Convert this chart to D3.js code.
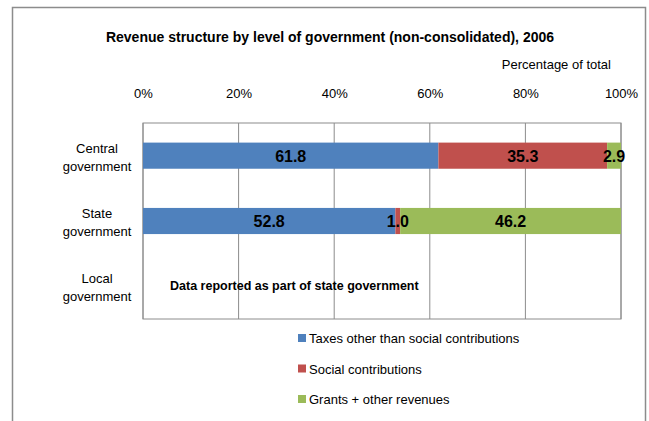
<!DOCTYPE html>
<html><head><meta charset="utf-8">
<script src="https://cdn.jsdelivr.net/npm/d3@7"></script>
<style>body{margin:0;background:#fff}svg{display:block}</style>
</head><body>
<script>
const categories = ["Central government", "State government", "Local government"];
const seriesNames = ["Taxes other than social contributions", "Social contributions", "Grants + other revenues"];
const taxes = [61.8, 52.8, null];
const social = [35.3, 1.0, null];
const grants = [2.9, 46.2, null];
const tickValues = [0, 20, 40, 60, 80, 100];
const note = "Data reported as part of state government";
const colors = ["#4F81BD", "#C0504D", "#9BBB59"];
const font = "'Liberation Sans Narrow', 'Arial Narrow', sans-serif";

const W = 649, H = 421;
const svg = d3.select("body").append("svg").attr("width", W).attr("height", H)
  .style("font-family", font);

svg.append("rect").attr("x", 12.5).attr("y", 7.5).attr("width", 633).attr("height", 430)
  .attr("fill", "#fff").attr("stroke", "#8c8c8c").attr("stroke-width", 1.5);

const x = d3.scaleLinear().domain([0, 100]).range([143, 621]);
const y = d3.scaleBand().domain(categories).range([123, 319]).paddingInner(0.6).paddingOuter(0.3);

svg.append("text").attr("x", 330).attr("y", 42).attr("text-anchor", "middle")
  .style("font-size", "14px").style("font-weight", "bold").attr("fill", "#000")
  .text("Revenue structure by level of government (non-consolidated), 2006");
svg.append("text").attr("x", 611).attr("y", 69).attr("text-anchor", "end")
  .style("font-size", "13px").text("Percentage of total");

// grid
svg.append("g").selectAll("line").data(tickValues).join("line")
  .attr("x1", d => x(d)).attr("x2", d => x(d)).attr("y1", 123).attr("y2", 319)
  .attr("stroke", "#8c8c8c").attr("stroke-width", 1);
svg.append("rect").attr("x", x(0)).attr("y", 123).attr("width", x(100) - x(0)).attr("height", 196)
  .attr("fill", "none").attr("stroke", "#8c8c8c").attr("stroke-width", 1);

// top axis
const xAxis = d3.axisTop(x).tickValues(tickValues).tickFormat(d => d + "%").tickSize(0).tickPadding(0);
const gx = svg.append("g").attr("transform", "translate(0,98)").call(xAxis);
gx.select(".domain").remove();
gx.selectAll("text").style("font-size", "13px").style("font-family", font).attr("fill", "#000");

// stacked bars
const rows = categories.map((c, i) => ({cat: c, vals: [taxes[i], social[i], grants[i]]}));
const segs = [];
rows.forEach(r => {
  if (r.vals[0] == null) return;
  let acc = 0;
  r.vals.forEach((v, k) => { segs.push({cat: r.cat, k, x0: acc, x1: acc + v, v}); acc += v; });
});
svg.append("g").selectAll("rect").data(segs).join("rect")
  .attr("x", d => x(d.x0)).attr("width", d => x(d.x1) - x(d.x0))
  .attr("y", d => y(d.cat)).attr("height", y.bandwidth())
  .attr("fill", d => colors[d.k]);
svg.append("g").selectAll("text").data(segs).join("text")
  .attr("x", d => x((d.x0 + d.x1) / 2)).attr("y", d => y(d.cat) + y.bandwidth() / 2 + 6)
  .attr("text-anchor", "middle").style("font-size", "16px").style("font-weight", "bold")
  .text(d => d.v.toFixed(1));

// category labels
const gy = svg.append("g");
categories.forEach(c => {
  const parts = c.split(" ");
  const cy = y(c) + y.bandwidth() / 2;
  const t = gy.append("text").attr("text-anchor", "middle").style("font-size", "13px");
  t.append("tspan").attr("x", 97).attr("y", cy - 3).text(parts[0]);
  t.append("tspan").attr("x", 97).attr("y", cy + 15).text(parts[1]);
});

// note for local government
svg.append("text").attr("x", 170).attr("y", y("Local government") + y.bandwidth() / 2 + 4)
  .style("font-size", "12.5px").style("font-weight", "bold").text(note);

// legend
const lg = svg.append("g");
seriesNames.forEach((s, i) => {
  const ly = 338 + i * 30.5;
  lg.append("rect").attr("x", 298).attr("y", ly - 4).attr("width", 8).attr("height", 8).attr("fill", colors[i]);
  lg.append("text").attr("x", 309).attr("y", ly + 5).style("font-size", "13px").text(s);
});
</script>
</body></html>
